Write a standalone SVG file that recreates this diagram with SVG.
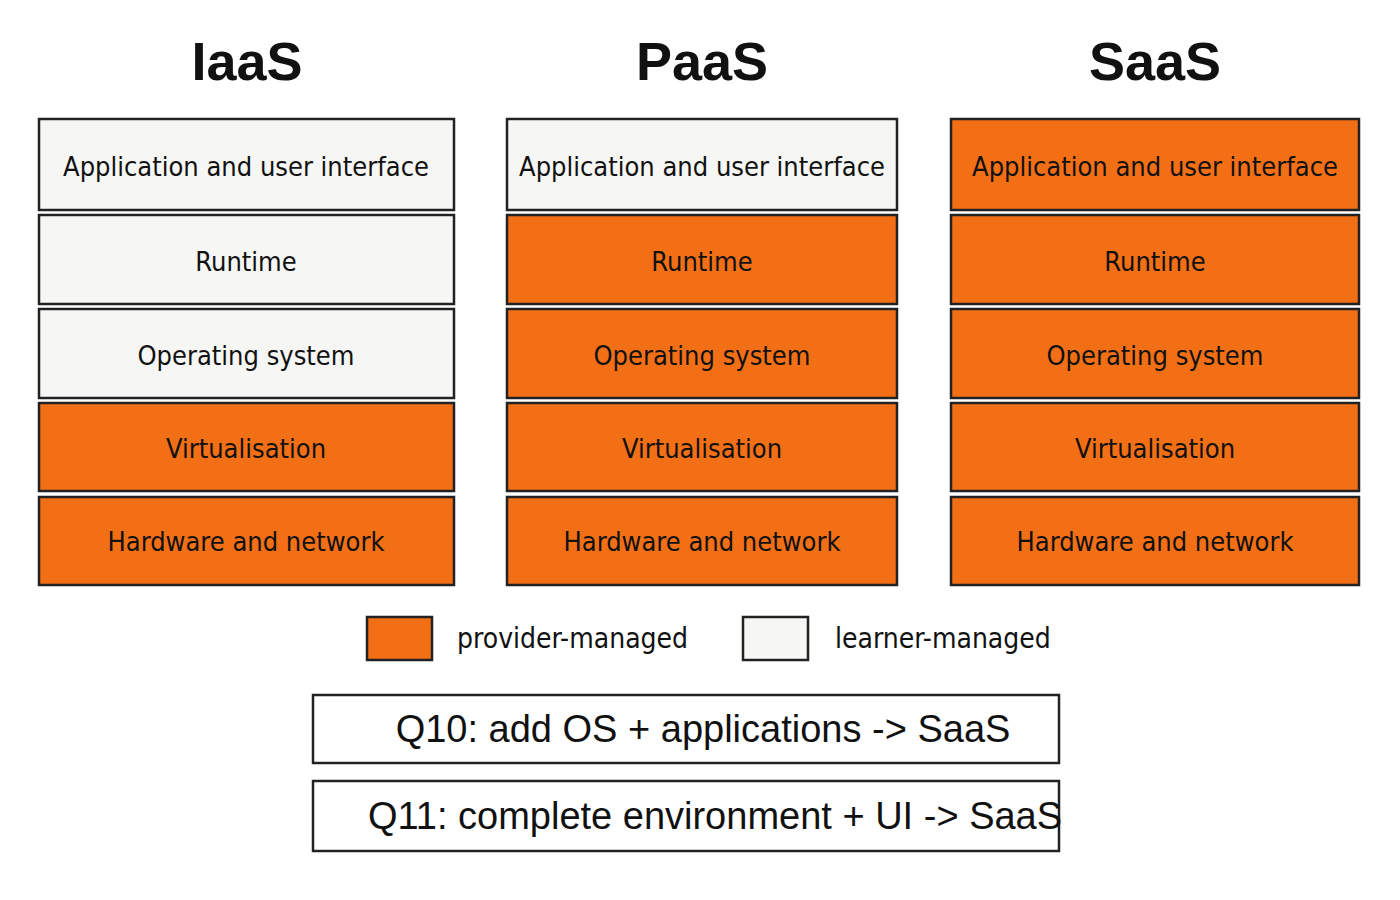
<svg xmlns="http://www.w3.org/2000/svg" width="1400" height="900" viewBox="0 0 1400 900">
<style>
.o{fill:#F36F16;stroke:#222;stroke-width:2.5}
.w{fill:#F6F6F4;stroke:#222;stroke-width:2.5}
.t{font-family:"DejaVu Sans Condensed","Liberation Sans",sans-serif;font-size:27px;fill:#111;text-anchor:middle;dominant-baseline:central}
.h{font-family:"Liberation Sans",sans-serif;font-weight:bold;font-size:54px;fill:#111;text-anchor:middle}
.l{font-family:"DejaVu Sans Condensed","Liberation Sans",sans-serif;font-size:28px;fill:#111;dominant-baseline:central}
.q{font-family:"Liberation Sans",sans-serif;font-size:38px;fill:#111;text-anchor:middle;dominant-baseline:central}
</style>
<rect width="1400" height="900" fill="#fff"/>
<text class="h" x="247" y="80">IaaS</text>
<text class="h" x="702" y="80">PaaS</text>
<text class="h" x="1155" y="80">SaaS</text>
<g id="iaas">
<rect class="w" x="39" y="119" width="415" height="91"/><text class="t" x="246" y="166">Application and user interface</text>
<rect class="w" x="39" y="215" width="415" height="89"/><text class="t" x="246" y="261">Runtime</text>
<rect class="w" x="39" y="309" width="415" height="89"/><text class="t" x="246" y="355">Operating system</text>
<rect class="o" x="39" y="403" width="415" height="88"/><text class="t" x="246" y="448">Virtualisation</text>
<rect class="o" x="39" y="497" width="415" height="88"/><text class="t" x="246" y="541">Hardware and network</text>
</g>
<g id="paas">
<rect class="w" x="507" y="119" width="390" height="91"/><text class="t" x="702" y="166">Application and user interface</text>
<rect class="o" x="507" y="215" width="390" height="89"/><text class="t" x="702" y="261">Runtime</text>
<rect class="o" x="507" y="309" width="390" height="89"/><text class="t" x="702" y="355">Operating system</text>
<rect class="o" x="507" y="403" width="390" height="88"/><text class="t" x="702" y="448">Virtualisation</text>
<rect class="o" x="507" y="497" width="390" height="88"/><text class="t" x="702" y="541">Hardware and network</text>
</g>
<g id="saas">
<rect class="o" x="951" y="119" width="408" height="91"/><text class="t" x="1155" y="166">Application and user interface</text>
<rect class="o" x="951" y="215" width="408" height="89"/><text class="t" x="1155" y="261">Runtime</text>
<rect class="o" x="951" y="309" width="408" height="89"/><text class="t" x="1155" y="355">Operating system</text>
<rect class="o" x="951" y="403" width="408" height="88"/><text class="t" x="1155" y="448">Virtualisation</text>
<rect class="o" x="951" y="497" width="408" height="88"/><text class="t" x="1155" y="541">Hardware and network</text>
</g>
<g id="legend">
<rect class="o" x="367" y="617" width="65" height="43"/><text class="l" x="457" y="638">provider-managed</text>
<rect class="w" x="743" y="617" width="65" height="43"/><text class="l" x="835" y="638">learner-managed</text>
</g>
<g id="q10"><rect x="313" y="695" width="746" height="68" fill="#fff" stroke="#222" stroke-width="2.5"/><text class="q" x="703" y="729">Q10: add OS + applications -&gt; SaaS</text></g>
<g id="q11"><rect x="313" y="781" width="746" height="70" fill="#fff" stroke="#222" stroke-width="2.5"/><text class="q" x="715" y="816">Q11: complete environment + UI -&gt; SaaS</text></g>
<g id="connectors"/>
</svg>
